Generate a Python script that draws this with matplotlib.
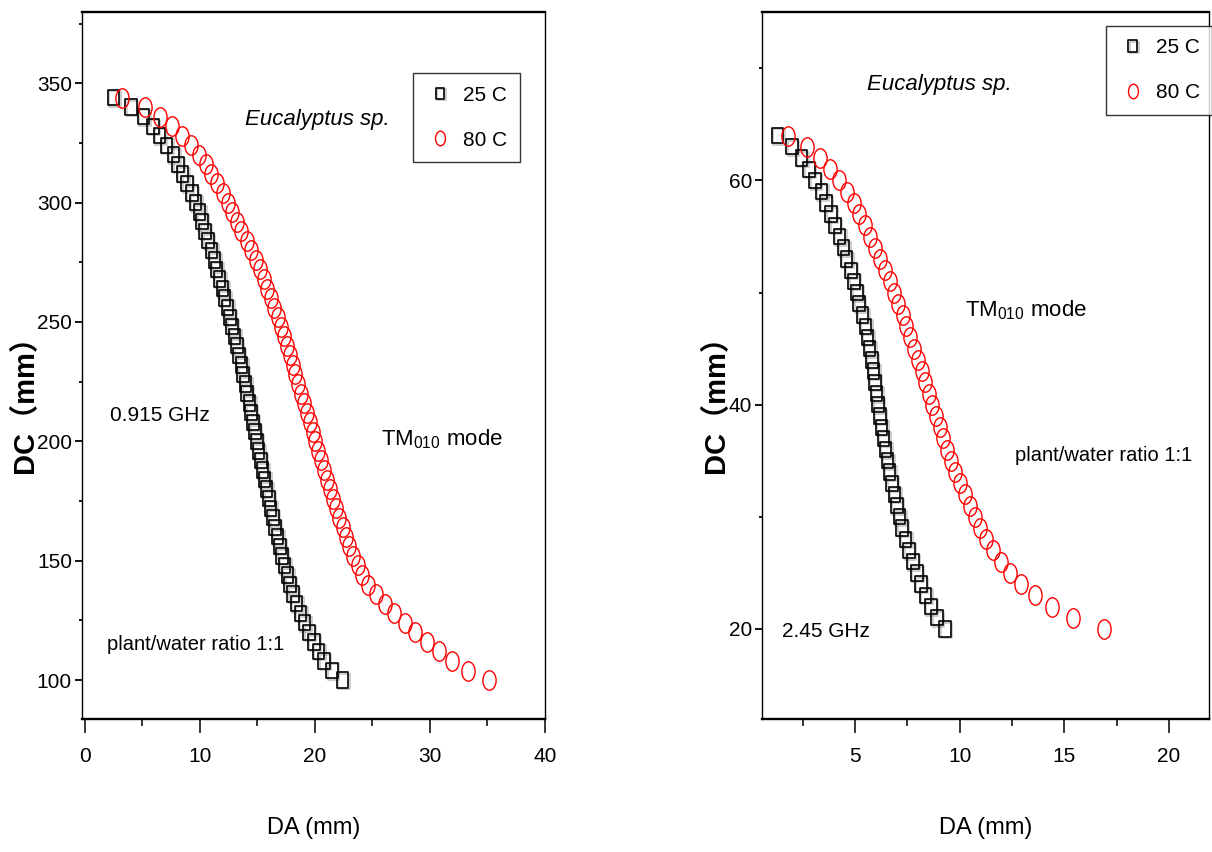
import matplotlib
matplotlib.use("Agg")
import matplotlib.pyplot as plt
from matplotlib.path import Path
from matplotlib.ticker import MultipleLocator
import matplotlib.patheffects as pe

plt.rcParams['font.family'] = ['Liberation Sans', 'DejaVu Sans']
plt.rcParams['mathtext.fontset'] = 'custom'
plt.rcParams['mathtext.rm'] = 'Liberation Sans'
plt.rcParams['mathtext.it'] = 'Liberation Sans:italic'

# ---------------- data: 0.915 GHz panel ----------------
dc_a = [344, 340, 336, 332, 328, 324, 320, 316, 312, 308, 304, 300, 296, 292, 288, 284,
        280, 276, 272, 268, 264, 260, 256, 252, 248, 244, 240, 236, 232, 228, 224, 220,
        216, 212, 208, 204, 200, 196, 192, 188, 184, 180, 176, 172, 168, 164, 160, 156,
        152, 148, 144, 140, 136, 132, 128, 124, 120, 116, 112, 108, 104, 100]
da_a_25 = [2.5, 4.0, 5.1, 5.9, 6.5, 7.1, 7.7, 8.1, 8.5, 8.9, 9.3, 9.6, 9.95, 10.2, 10.45, 10.7,
           11.0, 11.25, 11.45, 11.7, 11.95, 12.15, 12.4, 12.6, 12.8, 13.0, 13.2, 13.4, 13.6, 13.75, 13.95, 14.1,
           14.3, 14.45, 14.6, 14.8, 14.95, 15.1, 15.3, 15.45, 15.6, 15.8, 16.0, 16.15, 16.35, 16.55, 16.75, 16.95,
           17.15, 17.35, 17.6, 17.85, 18.1, 18.4, 18.75, 19.1, 19.5, 19.9, 20.3, 20.8, 21.5, 22.4]
da_a_80 = [3.2, 5.2, 6.5, 7.6, 8.4, 9.2, 9.9, 10.5, 11.0, 11.5, 12.0, 12.4, 12.8, 13.2, 13.6, 14.05,
           14.45, 14.85, 15.2, 15.55, 15.85, 16.15, 16.45, 16.75, 17.05, 17.3, 17.55, 17.8, 18.05, 18.3, 18.55, 18.8,
           19.05, 19.3, 19.55, 19.8, 20.0, 20.3, 20.55, 20.8, 21.05, 21.3, 21.55, 21.85, 22.1, 22.4, 22.7, 23.0,
           23.35, 23.7, 24.1, 24.6, 25.3, 26.1, 26.9, 27.8, 28.7, 29.7, 30.8, 31.9, 33.3, 35.1]

# ---------------- data: 2.45 GHz panel ----------------
dc_b = [64, 63, 62, 61, 60, 59, 58, 57, 56, 55, 54, 53, 52, 51, 50, 49, 48, 47, 46, 45, 44, 43,
        42, 41, 40, 39, 38, 37, 36, 35, 34, 33, 32, 31, 30, 29, 28, 27, 26, 25, 24, 23, 22, 21, 20]
da_b_25 = [1.3, 2.0, 2.45, 2.8, 3.1, 3.4, 3.6, 3.85, 4.05, 4.25, 4.45, 4.6, 4.8, 4.95, 5.1, 5.2,
           5.35, 5.5, 5.6, 5.7, 5.8, 5.88, 5.95, 6.02, 6.1, 6.18, 6.27, 6.36, 6.45, 6.55, 6.65, 6.77,
           6.88, 7.0, 7.12, 7.26, 7.42, 7.58, 7.76, 7.95, 8.15, 8.37, 8.62, 8.92, 9.3]
da_b_80 = [1.8, 2.7, 3.33, 3.8, 4.23, 4.6, 4.93, 5.2, 5.46, 5.7, 5.95, 6.18, 6.42, 6.66, 6.87, 7.07,
           7.27, 7.46, 7.65, 7.83, 8.01, 8.18, 8.35, 8.52, 8.69, 8.86, 9.04, 9.22, 9.41, 9.6, 9.8, 10.02,
           10.25, 10.48, 10.72, 10.98, 11.26, 11.58, 11.96, 12.4, 12.95, 13.6, 14.4, 15.4, 16.9]

series_labels = ['25 C', '80 C']
series_colors = ['black', '#ff0000']

# squashed marker shapes (taller than wide, as in the original)
sq = Path([(-0.38, -0.5), (0.38, -0.5), (0.38, 0.5), (-0.38, 0.5), (-0.38, -0.5)],
          [Path.MOVETO, Path.LINETO, Path.LINETO, Path.LINETO, Path.CLOSEPOLY])
circ0 = Path.unit_circle()
ell = Path(circ0.vertices * [0.34, 0.5], circ0.codes)

W, H = 1212, 852
fig = plt.figure(figsize=(W / 100, H / 100), dpi=100)
ax1 = fig.add_axes([81.7 / W, 133 / H, 463.3 / W, 706.7 / H])
ax2 = fig.add_axes([761.7 / W, 133 / H, 447.3 / W, 706.7 / H])


def style(ax, xlim, ylim, xmaj, xmin, ymaj, ymin):
    ax.set_xlim(*xlim)
    ax.set_ylim(*ylim)
    ax.xaxis.set_major_locator(MultipleLocator(xmaj))
    ax.xaxis.set_minor_locator(MultipleLocator(xmin))
    ax.yaxis.set_major_locator(MultipleLocator(ymaj))
    ax.yaxis.set_minor_locator(MultipleLocator(ymin))
    for s in ['top', 'bottom']:
        ax.spines[s].set_linewidth(1.7)
    for s in ['left', 'right']:
        ax.spines[s].set_linewidth(1.0)
    ax.tick_params(axis='x', which='major', direction='out', length=10, width=1.1,
                   labelsize=15, pad=10)
    ax.tick_params(axis='x', which='minor', direction='out', length=5, width=1.1)
    ax.tick_params(axis='y', which='major', direction='out', length=5, width=1.3,
                   labelsize=15, pad=2)
    ax.tick_params(axis='y', which='minor', direction='out', length=2.5, width=1.3)
    ax.set_xlabel('DA (mm)', fontsize=17)
    ax.xaxis.label.set_va('top')
    ax.set_ylabel('DC\uff08mm\uff09', fontsize=21, fontweight='bold',
                  family=['Liberation Sans', 'Noto Sans CJK SC'])
    ax.yaxis.label.set_va('center')


def plot_series(ax, xs25, xs80, ys):
    ax.plot(xs25, ys, linestyle='none', marker=sq, markersize=11, markerfacecolor='none',
            markeredgecolor=series_colors[0], markeredgewidth=1.2, label=series_labels[0],
            path_effects=[pe.SimpleLineShadow(offset=(1.0, -1.0), shadow_color='gray', alpha=0.45),
                          pe.Normal()])
    ax.plot(xs80, ys, linestyle='none', marker=ell, markersize=14, markerfacecolor='none',
            markeredgecolor=series_colors[1], markeredgewidth=1.0, label=series_labels[1])


def legend(ax, anchor):
    lg = ax.legend(loc='upper left', bbox_to_anchor=anchor, frameon=True, fancybox=False,
                   fontsize=15, markerscale=0.75, handlelength=1.4, handletextpad=0.4,
                   borderpad=0.6, labelspacing=1.25, borderaxespad=0, edgecolor='black')
    lg.get_frame().set_linewidth(1.0)


# ---------- left panel ----------
plot_series(ax1, da_a_25, da_a_80, dc_a)
style(ax1, (-0.28, 40), (83.7, 379.7), 10, 5, 50, 25)
ax1.xaxis.set_label_coords(0.5, -0.138)
ax1.yaxis.set_label_coords(-0.122, 0.455)
legend(ax1, (0.715, 0.914))
ax1.text(13.9, 335, 'Eucalyptus sp.', fontsize=16, style='italic', ha='left', va='center')
ax1.text(2.2, 211, '0.915 GHz', fontsize=15, ha='left', va='center')
ax1.text(25.7, 201, 'TM$_{010}$ mode', fontsize=16, ha='left', va='center')
ax1.text(1.9, 114.7, 'plant/water ratio 1:1', fontsize=14.5, ha='left', va='center')

# ---------- right panel ----------
plot_series(ax2, da_b_25, da_b_80, dc_b)
style(ax2, (0.54, 21.92), (11.97, 75.0), 5, 2.5, 20, 10)
ax2.xaxis.set_label_coords(0.5, -0.138)
ax2.yaxis.set_label_coords(-0.102, 0.455)
legend(ax2, (0.769, 0.981))
ax2.text(5.57, 68.6, 'Eucalyptus sp.', fontsize=16, style='italic', ha='left', va='center')
ax2.text(10.26, 48.4, 'TM$_{010}$ mode', fontsize=16, ha='left', va='center')
ax2.text(12.66, 35.5, 'plant/water ratio 1:1', fontsize=14.5, ha='left', va='center')
ax2.text(1.5, 19.8, '2.45 GHz', fontsize=15, ha='left', va='center')

fig.savefig('out.png', dpi=100)
